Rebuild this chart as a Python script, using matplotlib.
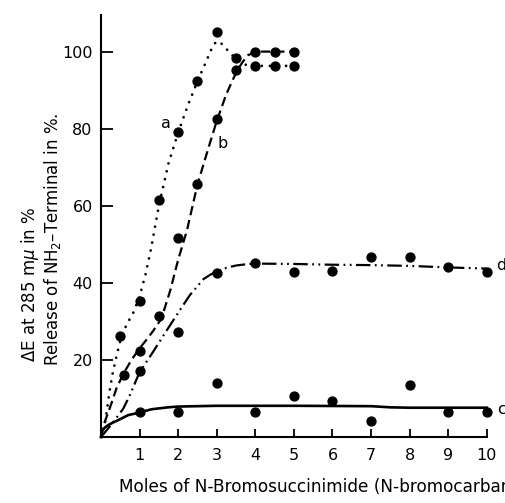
import matplotlib
matplotlib.use("Agg")
import matplotlib.pyplot as plt

# ---- measured data points ----
a_x = [0.5, 1.0, 1.5, 2.0, 2.5, 3.0, 3.5, 4.0, 4.5, 5.0]
a_y = [26.2, 35.3, 61.5, 79.2, 92.4, 105.2, 98.4, 96.3, 96.3, 96.3]

b_x = [0.6, 1.0, 1.5, 2.0, 2.5, 3.0, 3.5, 4.0, 4.5, 5.0]
b_y = [16.2, 22.2, 31.5, 51.6, 65.7, 82.5, 95.1, 100.0, 100.0, 100.0]

d_x = [1.0, 2.0, 3.0, 4.0, 5.0, 6.0, 7.0, 8.0, 9.0, 10.0]
d_y = [17.1, 27.3, 42.5, 45.1, 42.9, 43.1, 46.6, 46.6, 44.0, 42.9]

c_x = [1.0, 2.0, 3.0, 4.0, 5.0, 6.0, 7.0, 8.0, 9.0, 10.0]
c_y = [6.4, 6.4, 14.1, 6.4, 10.6, 9.4, 4.2, 13.6, 6.4, 6.6]

# ---- hand-drawn curves ----
a_cx = [0, 0.05, 0.1, 0.16, 0.22, 0.3, 0.36, 0.42, 0.5, 0.6, 0.7, 0.85, 1.0, 1.15, 1.3, 1.5, 1.75, 2.0,
        2.25, 2.5, 2.75, 2.9, 3.0, 3.1, 3.25, 3.5, 3.75, 4.0, 4.5, 5.0]
a_cy = [0, 1.5, 3.5, 7.4, 11.8, 16.4, 19.1, 21.7, 25.0, 27.8, 29.8, 32.5, 36.5, 42, 49, 60, 71, 79,
        86, 92.3, 98, 101.5, 102.7, 102.3, 100.7, 98.0, 96.6, 96.3, 96.3, 96.3]

b_cx = [0, 0.1, 0.27, 0.4, 0.58, 0.79, 1.0, 1.2, 1.35, 1.57, 1.8, 2.0, 2.23, 2.5, 2.8, 3.0, 3.25, 3.5,
        3.65, 3.8, 4.0, 4.5, 5.0]
b_cy = [0, 4, 8.7, 12.6, 16.4, 20, 23, 25.5, 27.5, 30.8, 38.2, 46, 53.7, 65.5, 75.5, 82, 89, 94.5,
        97, 99, 100, 100, 100]

d_cx = [0, 0.15, 0.3, 0.58, 0.75, 1.0, 1.35, 1.7, 2.05, 2.31, 2.66, 2.85, 3.0, 3.25, 3.5, 3.75, 4.0,
        5.0, 6.0, 7.0, 8.0, 9.0, 10.0]
d_cy = [0, 1.8, 3.6, 7.4, 10.9, 16.8, 22.1, 27.6, 33, 36.9, 41.0, 42.2, 42.9, 43.9, 44.5, 44.8, 45,
        44.9, 44.7, 44.6, 44.4, 44.0, 43.7]

c_cx = [0, 0.02, 0.08, 0.19, 0.3, 0.45, 0.71, 0.98, 1.31, 1.74, 2.0, 3.0, 5.0, 7.0, 7.5, 8.0, 9.0, 10.0]
c_cy = [0, 1.4, 2.3, 3.1, 3.7, 4.4, 5.7, 6.3, 7.2, 7.7, 7.9, 8.1, 8.1, 8.0, 7.7, 7.6, 7.6, 7.6]

x_ticks = [1, 2, 3, 4, 5, 6, 7, 8, 9, 10]
y_ticks = [20, 40, 60, 80, 100]

FONT = "DejaVu Sans"
plt.rcParams['font.family'] = [FONT]

fig = plt.figure(figsize=(5.06, 5.03), dpi=100)
ax = fig.add_axes([0.1996, 0.1312, 0.7624, 0.8390])

ax.plot(a_cx, a_cy, color='black', lw=2.0, linestyle=(0, (0.01, 2.9)),
        dash_capstyle='round', clip_on=False)
ax.plot(b_cx, b_cy, color='black', lw=1.6, linestyle=(0, (4.2, 2.2)), clip_on=False)
ax.plot(d_cx, d_cy, color='black', lw=1.6, linestyle=(0, (6.5, 2.0, 0.8, 2.0, 0.8, 2.0)), clip_on=False)
ax.plot(c_cx, c_cy, color='black', lw=1.9, linestyle='-', clip_on=False)

for xs, ys in [(a_x, a_y), (b_x, b_y), (d_x, d_y), (c_x, c_y)]:
    ax.plot(xs, ys, linestyle='none', marker='o', ms=6.4, color='black', clip_on=False, zorder=5)

ax.set_xlim(0, 10)
ax.set_ylim(0, 109.5)
ax.spines['top'].set_visible(False)
ax.spines['right'].set_visible(False)
ax.spines['left'].set_linewidth(1.5)
ax.spines['bottom'].set_linewidth(1.5)
ax.set_xticks(x_ticks)
ax.set_xticklabels([str(t) for t in x_ticks])
ax.set_yticks(y_ticks)
ax.set_yticklabels([str(t) for t in y_ticks])
ax.tick_params(axis='x', direction='in', length=6, width=1.3, pad=8, labelsize=11.5)
ax.tick_params(axis='y', direction='in', length=8.5, width=1.3, pad=6, labelsize=11.5)

ax.text(1.69, 81.4, 'a', fontsize=11.5, ha='center', va='center')
ax.text(3.16, 76.2, 'b', fontsize=11.5, ha='center', va='center')
ax.text(10.38, 44.4, 'd', fontsize=11.5, ha='center', va='center', clip_on=False)
ax.text(10.38, 7.2, 'c', fontsize=11.5, ha='center', va='center', clip_on=False)

fig.text(30 / 506, 1 - 362 / 503, 'ΔE at 285 m$\\mu$ in %', rotation=90,
         ha='center', va='bottom', fontsize=12)
fig.text(53 / 506, 1 - 366 / 503, 'Release of NH$_2$\u2013Terminal in %.', rotation=90,
         ha='center', va='bottom', fontsize=12)

fig.text(119 / 506, 1 - 487 / 503, 'Moles of N-Bromosuccinimide (N-bromocarbamide)',
         ha='left', va='center', fontsize=12.2)

fig.savefig('out.png', dpi=100)
